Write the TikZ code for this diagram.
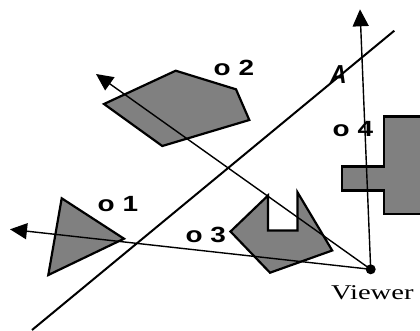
\documentclass[tikz,border=0pt]{standalone}
\usepackage{fontspec}
\setmainfont{Liberation Serif}
\setsansfont{Liberation Sans}
\usetikzlibrary{arrows.meta}

\begin{document}
\begin{tikzpicture}[x=1pt,y=-1pt,>={Triangle[length=17pt,width=16pt]},
  obj/.style={draw=black,fill=black!50,line width=2.2pt},
  ray/.style={->,line width=1.4pt},
  lbl/.style={anchor=base west,inner sep=0pt,font=\sffamily\bfseries\fontsize{22}{22}\selectfont}]
  \useasboundingbox (0,0) rectangle (420,330);
  % objects
  \draw[obj] (61.7,198.3) -- (124,238.7) -- (48.3,275) -- cycle;
  \draw[obj] (104,104) -- (175.7,70.7) -- (236,89.3) -- (249.3,120) -- (162.3,146) -- cycle;
  \draw[obj] (230.5,231.5) -- (268,195.5) -- (268,230.5) -- (297.5,230.5) -- (297.5,192.3)
    -- (332.2,250.5) -- (270,272.7) -- cycle;
  \begin{scope}
    \clip (0,0) rectangle (420,330);
    \draw[obj] (384,116.5) -- (430,116.5) -- (430,214) -- (384,214) -- (384,190.5)
      -- (341.7,190.5) -- (341.7,166.5) -- (384,166.5) -- cycle;
  \end{scope}
  % labels
  \node[lbl] (o1) at (97.5,211.7) {\scalebox{1.27}[1]{o 1}};
  \node[lbl] (o2) at (213.5,75) {\scalebox{1.27}[1]{o 2}};
  \node[lbl] (o3) at (185.3,242.7) {\scalebox{1.27}[1]{o 3}};
  \node[lbl] (o4) at (332.5,136) {\scalebox{1.27}[1]{o 4}};
  \node[anchor=base west,inner sep=0pt,font=\sffamily\bfseries\itshape\fontsize{26}{26}\selectfont] (A) at (330,83.3) {\scalebox{0.88}[1]{A}};
  % line A
  \coordinate (la) at (32,330);
  \coordinate (lb) at (394.3,30.7);
  \draw[line width=2pt] (la) -- (lb);
  % viewer and rays
  \node[circle,fill=black,inner sep=0pt,minimum size=10pt] (viewer) at (370.7,269.3) {};
  \node[anchor=base west,inner sep=0pt,font=\fontsize{21}{21}\selectfont] (vlabel) at (331,299) {\scalebox{1.36}[1]{Viewer}};
  \coordinate (up) at (360,9.3);
  \coordinate (left) at (10,229.3);
  \coordinate (upleft) at (96,74);
  \draw[ray] (viewer.center) -- (up);
  \draw[ray] (viewer.center) -- (left);
  \draw[ray] (viewer.center) -- (upleft);
\end{tikzpicture}
\end{document}
